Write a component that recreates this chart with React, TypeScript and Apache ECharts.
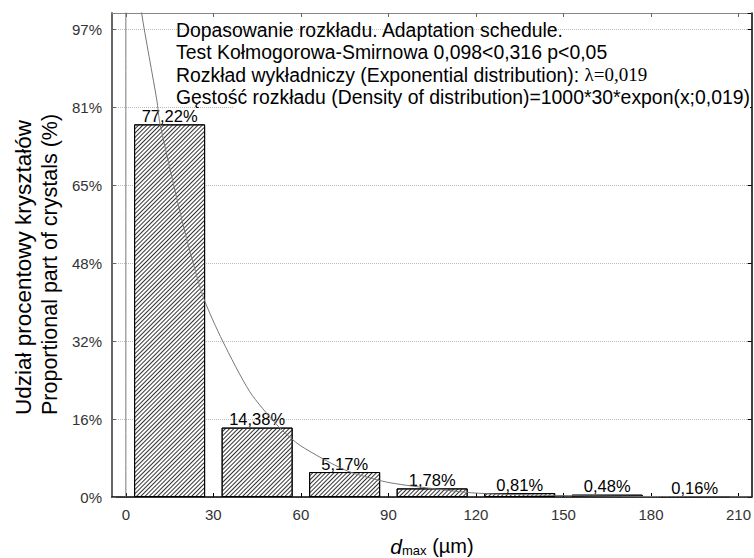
import React, { useEffect, useRef } from "react";
import * as echarts from "echarts";

const FONT = 'Arial, "Liberation Sans", Helvetica, sans-serif';
const SERIF = '"Liberation Serif", "Times New Roman", serif';

// x axis ticks (µm)
const xTicks = [0, 30, 60, 90, 120, 150, 180, 210];
// y axis: tick step (in % units) and its printed labels
const yTickStep = 16.16;
const yTickLabels = ["0%", "16%", "32%", "48%", "65%", "81%", "97%"];

// histogram
const binCenters = [15, 45, 75, 105, 135, 165, 195];
const percents = [77.22, 14.38, 5.17, 1.78, 0.81, 0.48, 0.16];
const barLabels = ["77,22%", "14,38%", "5,17%", "1,78%", "0,81%", "0,48%", "0,16%"];

// fitted density curve (x in µm, y in % axis units)
const curveX = [0, 0, 5.4, 10.6, 11.7, 20, 26.5, 33.2, 42.5, 51.7, 59, 68.8, 76.8, 89.3, 103, 120.2, 150, 180, 214.5];
const curveY = [0, 125, 100.3, 82.3, 77.3, 55.5, 41.5, 32.3, 21.8, 15.0, 11.0, 7.5, 5.2, 3.1, 1.9, 0.8, 0.3, 0.1, 0.02];

const annotation = [
  "Dopasowanie rozkładu. Adaptation schedule.",
  "Test Kołmogorowa-Smirnowa 0,098<0,316 p<0,05",
  "Rozkład wykładniczy (Exponential distribution): {l|λ=0,019}",
  "Gęstość rozkładu (Density of distribution)=1000*30*expon(x;0,019)",
];

const yNameLines = ["Udział procentowy kryształów", "Proportional part of crystals (%)"];
const yNameSizes = [22.5, 21.5];

const X_MIN = -4.75;
const X_MAX = 214.5;
const Y_MAX = 100.3;

export default function App() {
  const ref = useRef<HTMLDivElement>(null);
  useEffect(() => {
    document.body.style.margin = "0";
    const chart = echarts.init(ref.current!, null, { renderer: "svg" });
    const yFormatter = (v: number) => {
      const i = Math.round(v / yTickStep);
      return Math.abs(v - i * yTickStep) < 1e-6 ? yTickLabels[i] ?? "" : "";
    };
    const option: any = {
      animation: false,
      backgroundColor: "#fff",
      grid: { left: 112, right: 2, top: 13, bottom: 61, containLabel: false },
      xAxis: [
        {
          type: "value",
          min: X_MIN,
          max: X_MAX,
          position: "bottom",
          axisLine: { show: true, onZero: false, lineStyle: { color: "#000", width: 1.5 } },
          axisTick: { show: true, inside: true, length: 4, customValues: xTicks, lineStyle: { color: "#000" } },
          axisLabel: { customValues: xTicks, color: "#333", fontSize: 15, fontFamily: FONT, margin: 10 },
          splitLine: { show: false },
        },
        {
          type: "value",
          min: X_MIN,
          max: X_MAX,
          position: "top",
          axisLine: { show: true, onZero: false, lineStyle: { color: "#888", width: 1 } },
          axisTick: { show: true, inside: true, length: 4, customValues: xTicks, lineStyle: { color: "#666" } },
          axisLabel: { show: false },
          splitLine: { show: false },
        },
      ],
      yAxis: [
        {
          type: "value",
          min: 0,
          max: Y_MAX,
          interval: yTickStep,
          position: "left",
          axisLine: { show: true, onZero: false, lineStyle: { color: "#666", width: 2 } },
          axisTick: { show: true, inside: true, length: 4, lineStyle: { color: "#666" } },
          axisLabel: {
            formatter: yFormatter,
            showMaxLabel: false,
            color: "#333",
            fontSize: 15,
            fontFamily: FONT,
            margin: 10,
          },
          splitLine: { show: true, lineStyle: { color: "#bbb", type: "dotted", width: 1 } },
        },
        {
          type: "value",
          min: 0,
          max: Y_MAX,
          interval: yTickStep,
          position: "right",
          axisLine: { show: true, onZero: false, lineStyle: { color: "#000", width: 1.5 } },
          axisTick: { show: true, inside: true, length: 4, lineStyle: { color: "#000" } },
          axisLabel: { show: false },
          splitLine: { show: false },
        },
      ],
      graphic: [
        { type: "rect", z: 1, shape: { x: 233, y: 40, width: 517, height: 74 }, style: { fill: "#fff" } },
        ...annotation.map((t, i) => ({
          type: "text",
          z: 10,
          x: 176,
          y: 30 + i * 22.3,
          style: {
            text: t,
            fill: "#000",
            fontSize: 19.4,
            fontFamily: FONT,
            align: "left",
            verticalAlign: "middle",
            rich: { l: { fontFamily: SERIF, fontSize: 19, fill: "#000" } },
          },
        })),
        ...yNameLines.map((t, i) => ({
          type: "text",
          z: 10,
          x: 23 + i * 27,
          y: 415,
          rotation: Math.PI / 2,
          style: {
            text: t,
            fill: "#000",
            fontSize: yNameSizes[i],
            fontFamily: FONT,
            align: "left",
            verticalAlign: "middle",
          },
        })),
        {
          type: "text",
          z: 10,
          x: 432,
          y: 546,
          style: {
            text: "{d|d}{s|max}{n| (µm)}",
            fill: "#000",
            fontFamily: FONT,
            align: "center",
            verticalAlign: "middle",
            rich: {
              d: { fontSize: 21, fontStyle: "italic", fontFamily: FONT, fill: "#000", verticalAlign: "middle", lineHeight: 21 },
              s: { fontSize: 13, fontFamily: FONT, fill: "#000", verticalAlign: "bottom", lineHeight: 14 },
              n: { fontSize: 20, fontFamily: FONT, fill: "#000", verticalAlign: "middle", lineHeight: 21 },
            },
          },
        },
      ],
      series: [
        {
          type: "bar",
          xAxisIndex: 0,
          yAxisIndex: 0,
          barWidth: 71,
          data: binCenters.map((c, i) => [c, percents[i]]),
          itemStyle: {
            color: "#fff",
            borderColor: "#000",
            borderWidth: 1,
            decal: {
              symbol: "rect",
              symbolSize: 1,
              color: "#333",
              dashArrayX: [1, 0],
              dashArrayY: [1, 2],
              rotation: -Math.PI / 4,
            },
          },
          label: {
            show: true,
            position: "top",
            distance: 0,
            formatter: (p: any) => barLabels[p.dataIndex],
            color: "#000",
            fontSize: 16.5,
            fontFamily: FONT,
          },
          z: 2,
        },
        {
          type: "line",
          xAxisIndex: 0,
          yAxisIndex: 0,
          data: curveX.map((x, i) => [x, curveY[i]]),
          symbol: "none",
          smooth: 0.25,
          clip: true,
          lineStyle: { color: "#777", width: 1 },
          z: 3,
        },
      ],
    };
    chart.setOption(option);
    return () => chart.dispose();
  }, []);
  return <div ref={ref} style={{ width: 754, height: 558 }} />;
}
